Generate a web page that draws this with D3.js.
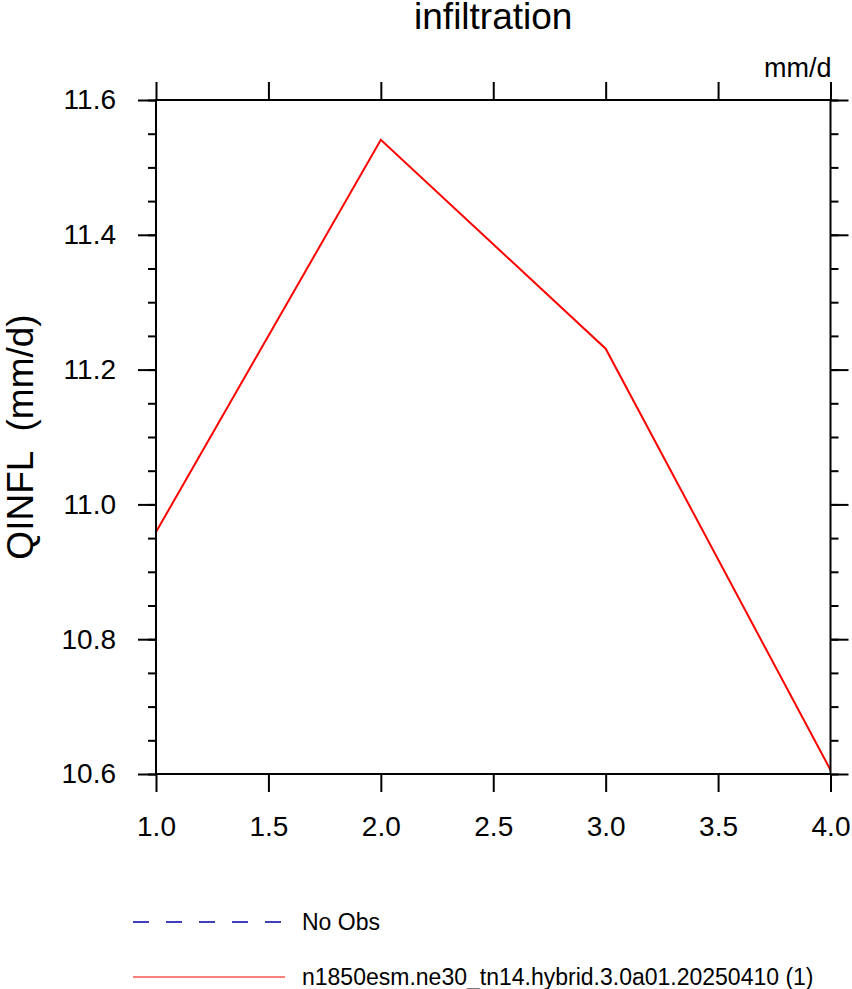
<!DOCTYPE html>
<html><head><meta charset="utf-8">
<script src="https://cdn.jsdelivr.net/npm/d3@7/dist/d3.min.js"></script>
<style>body{margin:0;background:#fff}svg{display:block}text{font-family:"Liberation Sans",Arial,Helvetica,sans-serif}</style>
</head><body><svg id="c" width="852" height="989"></svg>
<script>
const xValues = [1, 2, 3, 4];
const seriesValues = [10.959, 11.541, 11.231, 10.606];
const xTicks = [1.0, 1.5, 2.0, 2.5, 3.0, 3.5, 4.0];
const yTicks = [10.6, 10.8, 11.0, 11.2, 11.4, 11.6];
const yMinorTicks = d3.range(0, 21).map(i => 10.6 + i * 0.05);
const legendLabels = ["No Obs", "n1850esm.ne30_tn14.hybrid.3.0a01.20250410 (1)"];
const titleText = "infiltration";
const yLabel = "QINFL  (mm/d)";
const unitsText = "mm/d";

const svg = d3.select("#c");
const L = 156, R = 830.5, T = 100, B = 774;
const x = d3.scaleLinear().domain([1, 4]).range([L, R]);
const y = d3.scaleLinear().domain([10.6, 11.6]).range([B, T]);

svg.append("defs").append("clipPath").attr("id","clip").append("rect")
  .attr("x", L).attr("y", T).attr("width", R - L).attr("height", B - T);
const line = d3.line().x((d,i) => x(xValues[i])).y(d => y(d));
svg.append("path").datum(seriesValues).attr("d", line)
  .attr("fill","none").attr("stroke","#ff0000").attr("stroke-width",2)
  .attr("clip-path","url(#clip)");

const fmt1 = d3.format(".1f");
const axB = d3.axisBottom(x).tickValues(xTicks).tickSize(18).tickPadding(24).tickFormat(fmt1);
const axT = d3.axisTop(x).tickValues(xTicks).tickSize(18).tickFormat("");
const axL = d3.axisLeft(y).tickValues(yTicks).tickSize(18).tickPadding(22).tickFormat(fmt1);
const axR = d3.axisRight(y).tickValues(yTicks).tickSize(18).tickFormat("");
const axLm = d3.axisLeft(y).tickValues(yMinorTicks).tickSize(8).tickFormat("");
const axRm = d3.axisRight(y).tickValues(yMinorTicks).tickSize(8).tickFormat("");

function style(g){
  g.select(".domain").remove();
  g.selectAll(".tick line").attr("stroke","#000").attr("stroke-width",2);
  g.selectAll("text").attr("fill","#000").style("font-size","28px")
    .style("font-family",'"Liberation Sans",Arial,sans-serif');
}
svg.append("g").attr("transform",`translate(0,${B})`).call(axB).call(style);
svg.append("g").attr("transform",`translate(0,${T})`).call(axT).call(style);
svg.append("g").attr("transform",`translate(${L},0)`).call(axL).call(style);
svg.append("g").attr("transform",`translate(${R},0)`).call(axR).call(style);
svg.append("g").attr("transform",`translate(${L},0)`).call(axLm).call(style);
svg.append("g").attr("transform",`translate(${R},0)`).call(axRm).call(style);

svg.append("rect").attr("x",L).attr("y",T).attr("width",R-L).attr("height",B-T)
  .attr("fill","none").attr("stroke","#000").attr("stroke-width",2);

svg.append("text").attr("x",(L+R)/2).attr("y",29).attr("text-anchor","middle")
  .style("font-size","37px").text(titleText);
svg.append("text").attr("x",R+1).attr("y",77).attr("text-anchor","end")
  .style("font-size","27px").text(unitsText);
svg.append("text").attr("transform",`translate(33,${(T+B)/2}) rotate(-90)`)
  .attr("text-anchor","middle").style("font-size","37px").style("white-space","pre")
  .attr("xml:space","preserve").text(yLabel);

const legY = [922, 977];
svg.append("line").attr("x1",133).attr("x2",285).attr("y1",legY[0]).attr("y2",legY[0])
  .attr("stroke","#0000aa").attr("stroke-width",1.5).attr("stroke-dasharray","16,17");
svg.append("line").attr("x1",133).attr("x2",285).attr("y1",legY[1]).attr("y2",legY[1])
  .attr("stroke","#ff0000").attr("stroke-width",1.2);
legendLabels.forEach((t,i) => {
  svg.append("text").attr("x",302).attr("y",legY[i]).attr("dy","0.35em")
    .style("font-size","23px").text(t);
});
</script></body></html>
